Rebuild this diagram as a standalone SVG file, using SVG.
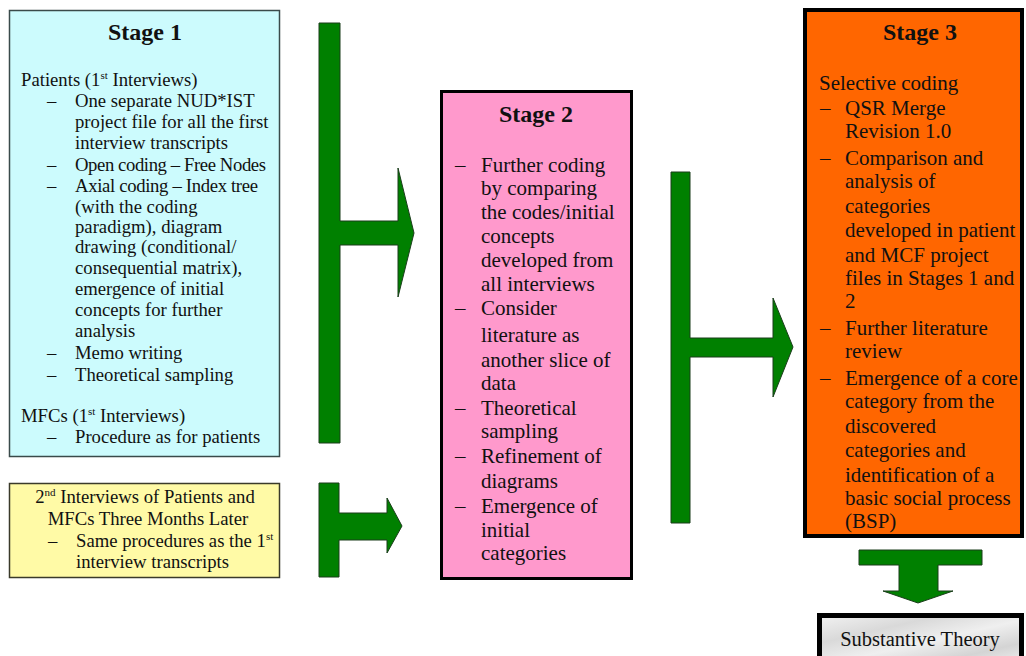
<svg xmlns="http://www.w3.org/2000/svg" width="1026" height="656" viewBox="0 0 1026 656">
<defs>
<style>
text{font-family:"Liberation Serif","Times New Roman",serif;fill:#111}
.t{font-weight:bold;font-size:24px;text-anchor:middle}
.s1{font-size:18.7px}
.s2{font-size:21px}
.arr{fill:#008000;stroke:#1b3d1b;stroke-width:1}
</style>
<linearGradient id="marble" x1="0" y1="0" x2="1" y2="1">
<stop offset="0" stop-color="#f2f2f2"/>
<stop offset="0.3" stop-color="#d9d9d9"/>
<stop offset="0.55" stop-color="#efefef"/>
<stop offset="0.8" stop-color="#d4d4d4"/>
<stop offset="1" stop-color="#ececec"/>
</linearGradient>
</defs>
<rect width="1026" height="656" fill="#ffffff"/>

<g id="stage1">
<rect x="9.5" y="10.5" width="270" height="446" fill="#ccfbfd" stroke="#3a4a4a" stroke-width="1.5"/>
<text class="t" x="145" y="40">Stage 1</text>
<g class="s1">
<text x="21" y="86">Patients (1<tspan font-size="11" dy="-7">st</tspan><tspan dy="7"> Interviews)</tspan></text>
<text x="47" y="107">–</text><text x="75" y="107">One separate NUD*IST</text>
<text x="75" y="128">project file for all the first</text>
<text x="75" y="149">interview transcripts</text>
<text x="47" y="171">–</text><text x="75" y="171" textLength="191" lengthAdjust="spacing">Open coding – Free Nodes</text>
<text x="47" y="192">–</text><text x="75" y="192" textLength="183" lengthAdjust="spacing">Axial coding – Index tree</text>
<text x="75" y="213">(with the coding</text>
<text x="75" y="233">paradigm), diagram</text>
<text x="75" y="253">drawing (conditional/</text>
<text x="75" y="274">consequential matrix),</text>
<text x="75" y="295">emergence of initial</text>
<text x="75" y="316">concepts for further</text>
<text x="75" y="337">analysis</text>
<text x="47" y="359">–</text><text x="75" y="359">Memo writing</text>
<text x="47" y="381">–</text><text x="75" y="381">Theoretical sampling</text>
<text x="21" y="422">MFCs (1<tspan font-size="11" dy="-7">st</tspan><tspan dy="7"> Interviews)</tspan></text>
<text x="47" y="443">–</text><text x="75" y="443">Procedure as for patients</text>
</g>
</g>

<g id="interviews2">
<rect x="9.5" y="483.5" width="270" height="94" fill="#fffaa6" stroke="#3a3a2a" stroke-width="1.5"/>
<g class="s1">
<text x="145" y="503" text-anchor="middle">2<tspan font-size="11" dy="-7">nd</tspan><tspan dy="7"> Interviews of Patients and</tspan></text>
<text x="148" y="525" text-anchor="middle">MFCs Three Months Later</text>
<text x="48" y="547">–</text><text x="76" y="547">Same procedures as the 1<tspan font-size="11" dy="-7">st</tspan></text>
<text x="76" y="568">interview transcripts</text>
</g>
</g>

<g id="stage2">
<rect x="441.5" y="91.5" width="190" height="487" fill="#ff99cc" stroke="#000" stroke-width="3"/>
<text class="t" x="536" y="122">Stage 2</text>
<g class="s2">
<text x="455" y="172">–</text><text x="481" y="172">Further coding</text>
<text x="481" y="195">by comparing</text>
<text x="481" y="219">the codes/initial</text>
<text x="481" y="243">concepts</text>
<text x="481" y="267">developed from</text>
<text x="481" y="291">all interviews</text>
<text x="455" y="315">–</text><text x="481" y="315">Consider</text>
<text x="481" y="342">literature as</text>
<text x="481" y="367">another slice of</text>
<text x="481" y="390">data</text>
<text x="455" y="415">–</text><text x="481" y="415">Theoretical</text>
<text x="481" y="438">sampling</text>
<text x="455" y="463">–</text><text x="481" y="463">Refinement of</text>
<text x="481" y="488">diagrams</text>
<text x="455" y="513">–</text><text x="481" y="513">Emergence of</text>
<text x="481" y="537">initial</text>
<text x="481" y="560">categories</text>
</g>
</g>

<g id="stage3">
<rect x="805" y="10" width="217" height="526" fill="#ff6600" stroke="#000" stroke-width="4"/>
<text class="t" x="920" y="40">Stage 3</text>
<g class="s2">
<text x="819" y="90">Selective coding</text>
<text x="820" y="115">–</text><text x="845" y="115">QSR Merge</text>
<text x="845" y="138">Revision 1.0</text>
<text x="820" y="165">–</text><text x="845" y="165">Comparison and</text>
<text x="845" y="188">analysis of</text>
<text x="845" y="213">categories</text>
<text x="845" y="237">developed in patient</text>
<text x="845" y="262">and MCF project</text>
<text x="845" y="285">files in Stages 1 and</text>
<text x="845" y="308">2</text>
<text x="820" y="335">–</text><text x="845" y="335">Further literature</text>
<text x="845" y="358">review</text>
<text x="820" y="385">–</text><text x="845" y="385">Emergence of a core</text>
<text x="845" y="408">category from the</text>
<text x="845" y="433">discovered</text>
<text x="845" y="457">categories and</text>
<text x="845" y="482">identification of a</text>
<text x="845" y="505">basic social process</text>
<text x="845" y="528">(BSP)</text>
</g>
</g>

<g id="theory">
<rect x="819.5" y="615.5" width="202" height="46" fill="url(#marble)" stroke="#000" stroke-width="5"/>
<text x="920" y="646" font-size="20.5" text-anchor="middle">Substantive Theory</text>
</g>

<g id="connectors">
<polygon class="arr" points="319,23 340,23 340,221 398,221 398,168 414,233 398,297 398,245 340,245 340,443 319,443"/>
<polygon class="arr" points="319,483 339,483 339,513 387,513 387,498 402,526 387,553 387,540 339,540 339,577 319,577"/>
<polygon class="arr" points="671,172 690,172 690,338 773,338 773,298 793,347 773,397 773,357 690,357 690,523 671,523"/>
<polygon class="arr" points="859,550 982,550 982,565 938,565 938,591 953,591 918,603 883,591 899,591 899,565 859,565"/>
</g>
</svg>
